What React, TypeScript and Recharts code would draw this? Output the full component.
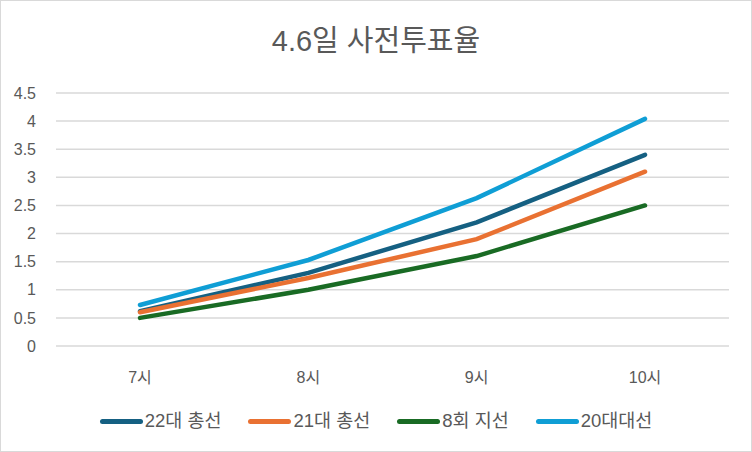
import React from "react";
import { CartesianGrid, Line, LineChart, XAxis, YAxis } from "recharts";

const hours = ["7시", "8시", "9시", "10시"];
const election22 = [0.62, 1.3, 2.2, 3.4];
const election21 = [0.6, 1.21, 1.9, 3.1];
const local8 = [0.5, 1.0, 1.6, 2.5];
const president20 = [0.73, 1.53, 2.63, 4.04];
const yTicks = [0, 0.5, 1, 1.5, 2, 2.5, 3, 3.5, 4, 4.5];

const series = [
  { key: "e22", name: "22대 총선", color: "#156082", values: election22 },
  { key: "e21", name: "21대 총선", color: "#E97132", values: election21 },
  { key: "l8", name: "8회 지선", color: "#196B24", values: local8 },
  { key: "p20", name: "20대대선", color: "#0F9ED5", values: president20 },
];

const data = hours.map((h, i) => {
  const row: any = { hour: h };
  series.forEach((s) => (row[s.key] = s.values[i]));
  return row;
});

const font = "'Liberation Sans', Arial, 'Noto Sans CJK KR', sans-serif";

const App = () => {
  return (
    <div
      style={{
        position: "absolute",
        left: 0,
        top: 0,
        width: 752,
        height: 452,
        boxSizing: "border-box",
        border: "1px solid #d9d9d9",
        background: "#fff",
        fontFamily: font,
      }}
    >
      <div
        style={{
          position: "absolute",
          top: 23,
          width: "100%",
          textAlign: "center",
          fontSize: 29,
          lineHeight: "34px",
          color: "#595959",
        }}
      >
        4.6일 사전투표율
      </div>
      <div style={{ position: "absolute", left: -1, top: -1 }}>
        <LineChart
          width={752}
          height={452}
          data={data}
          margin={{ top: 93, right: 23, bottom: 76, left: 0 }}
        >
          <CartesianGrid vertical={false} stroke="#d9d9d9" strokeWidth={1.5} />
          <XAxis
            dataKey="hour"
            axisLine={false}
            tickLine={false}
            tickMargin={20}
            padding={{ left: 84, right: 84 }}
            tick={{ fill: "#595959", fontSize: 16, fontFamily: font }}
          />
          <YAxis
            domain={[0, 4.5]}
            ticks={yTicks}
            interval={0}
            width={56}
            axisLine={false}
            tickLine={false}
            tickMargin={14}
            tick={{ fill: "#595959", fontSize: 16, fontFamily: font }}
          />
          {series.map((s) => (
            <Line
              key={s.key}
              dataKey={s.key}
              name={s.name}
              stroke={s.color}
              strokeWidth={4.5}
              strokeLinecap="round"
              dot={false}
              isAnimationActive={false}
            />
          ))}
        </LineChart>
      </div>
      <div
        style={{
          position: "absolute",
          top: 407,
          left: 0,
          width: "100%",
          display: "flex",
          justifyContent: "center",
          gap: 27,
          fontSize: 18.5,
          lineHeight: "26px",
          color: "#595959",
        }}
      >
        {series.map((s) => (
          <div key={s.key} style={{ display: "flex", alignItems: "center" }}>
            <span
              style={{
                display: "inline-block",
                width: 43,
                height: 5,
                borderRadius: 3,
                background: s.color,
                marginRight: 2,
              }}
            />
            <span>{s.name}</span>
          </div>
        ))}
      </div>
    </div>
  );
};

export default App;
